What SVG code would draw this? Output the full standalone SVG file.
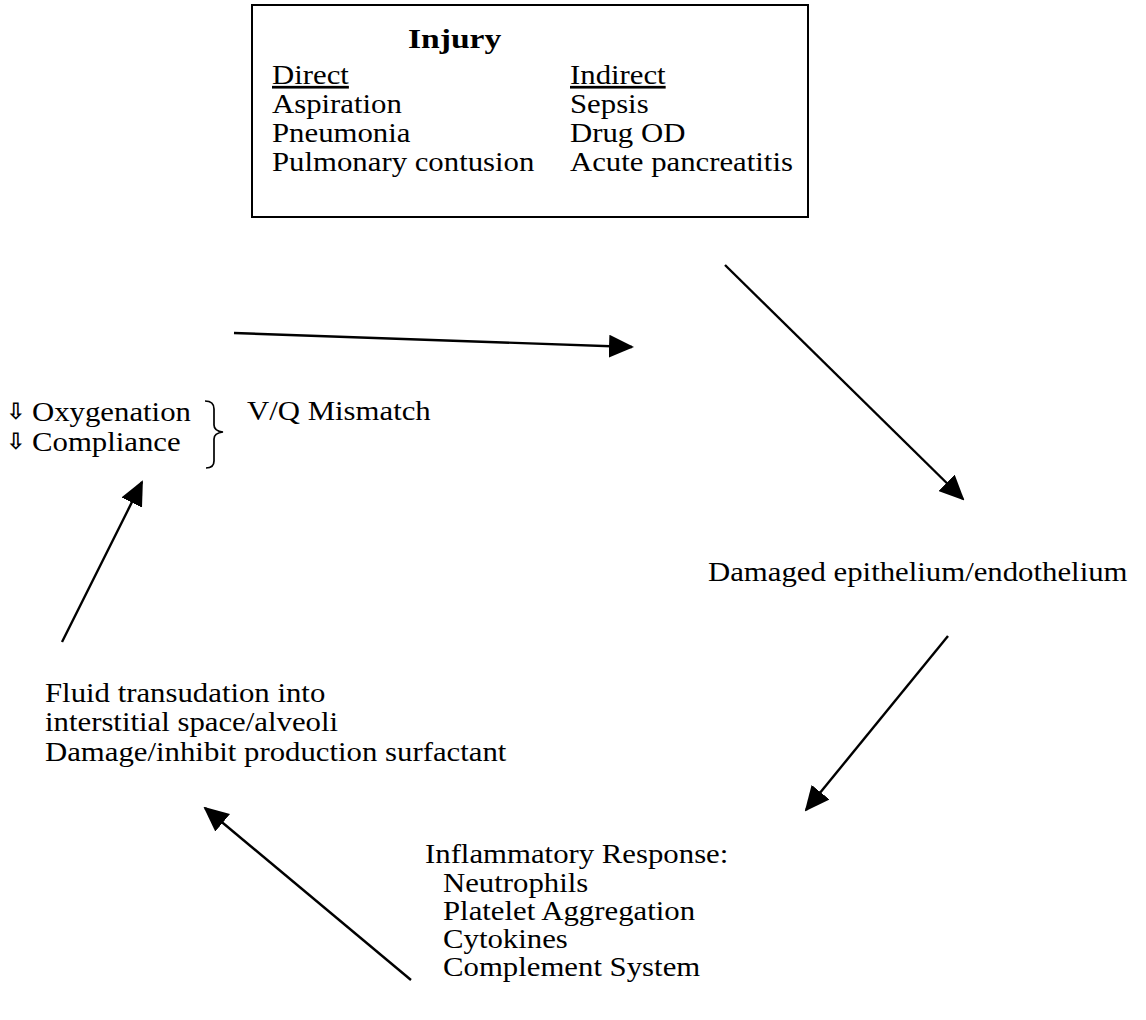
<svg xmlns="http://www.w3.org/2000/svg" width="1146" height="1020" viewBox="0 0 1146 1020">
<style>
.t{font-family:"Liberation Serif","Times New Roman",serif;font-size:27px;fill:#000}
.b{font-weight:bold;font-size:28px}
.u{text-decoration:underline}
.c{stroke:#000;stroke-width:2.4;fill:none;marker-end:url(#ah)}
.box{fill:none;stroke:#000;stroke-width:2}
.ar{font-family:"DejaVu Sans",sans-serif;font-size:23px;font-weight:bold;fill:#000}
</style>
<defs>
<marker id="ah" viewBox="0 0 25 23" refX="23" refY="11.5" markerWidth="25" markerHeight="23" markerUnits="userSpaceOnUse" orient="auto">
<path d="M0,0 L25,11.5 L0,23 z" fill="#000"/>
</marker>
</defs>
<rect width="1146" height="1020" fill="#fff"/>
<g id="injury">
<rect class="box" x="252" y="5" width="556" height="212"/>
<text class="t b" transform="translate(408,48) scale(1.2,1)">Injury</text>
<text class="t u" transform="translate(272,84) scale(1.14,1)">Direct</text>
<text class="t u" transform="translate(570,84) scale(1.14,1)">Indirect</text>
<text class="t" transform="translate(272,113) scale(1.14,1)">Aspiration</text>
<text class="t" transform="translate(570,113) scale(1.14,1)">Sepsis</text>
<text class="t" transform="translate(272,142) scale(1.14,1)">Pneumonia</text>
<text class="t" transform="translate(570,142) scale(1.14,1)">Drug OD</text>
<text class="t" transform="translate(272,171) scale(1.14,1)">Pulmonary contusion</text>
<text class="t" transform="translate(570,171) scale(1.14,1)">Acute pancreatitis</text>
</g>
<g id="damaged">
<text class="t" transform="translate(708,581) scale(1.14,1)">Damaged epithelium/endothelium</text>
</g>
<g id="inflammatory">
<text class="t" transform="translate(425,863) scale(1.14,1)">Inflammatory Response:</text>
<text class="t" transform="translate(443,892) scale(1.14,1)">Neutrophils</text>
<text class="t" transform="translate(443,920) scale(1.14,1)">Platelet Aggregation</text>
<text class="t" transform="translate(443,948) scale(1.14,1)">Cytokines</text>
<text class="t" transform="translate(443,976) scale(1.14,1)">Complement System</text>
</g>
<g id="fluid">
<text class="t" transform="translate(45,702) scale(1.14,1)">Fluid transudation into</text>
<text class="t" transform="translate(45,731) scale(1.14,1)">interstitial space/alveoli</text>
<text class="t" transform="translate(45,761) scale(1.14,1)">Damage/inhibit production surfactant</text>
</g>
<g id="oxygenation">
<text class="ar" x="6" y="419">⇩</text>
<text class="t" transform="translate(32,421) scale(1.14,1)">Oxygenation</text>
<text class="ar" x="6" y="449">⇩</text>
<text class="t" transform="translate(32,451) scale(1.14,1)">Compliance</text>
<path d="M205,401 Q214,401 214,409 L214,425 Q214,431 223,432 Q214,433 214,439 L214,461 Q214,468 206,468" fill="none" stroke="#000" stroke-width="1.7"/>
<text class="t" transform="translate(247,420) scale(1.14,1)">V/Q Mismatch</text>
</g>
<g id="connectors">
<line class="c" x1="234" y1="333" x2="632" y2="347"/>
<line class="c" x1="725" y1="265" x2="963" y2="499"/>
<line class="c" x1="948" y1="636" x2="806" y2="810"/>
<line class="c" x1="411" y1="980" x2="205" y2="808"/>
<line class="c" x1="62" y1="642" x2="142" y2="482"/>
</g>
</svg>
